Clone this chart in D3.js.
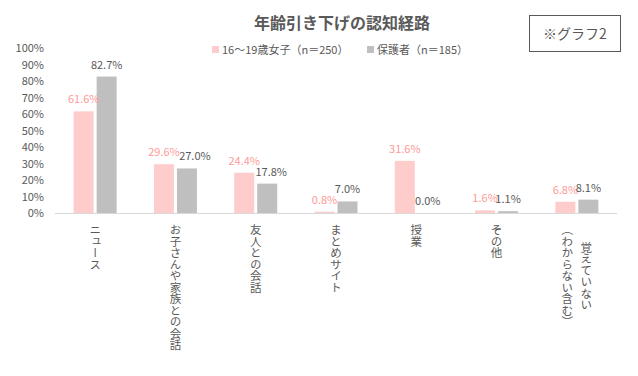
<!DOCTYPE html>
<html>
<head>
<meta charset="utf-8">
<script src="https://cdn.jsdelivr.net/npm/d3@7"></script>
<style>
  body { margin: 0; background: #fff; }
  svg { font-family: "Noto Sans CJK JP", "Noto Sans", sans-serif; }
</style>
</head>
<body>
<svg id="chart" width="638" height="376"></svg>
<script>
// categories (each label may wrap into several vertical columns)
const categories = [
    ['ニュース'],
    ['お子さんや家族との会話'],
    ['友人との会話'],
    ['まとめサイト'],
    ['授業'],
    ['その他'],
    ['覚えていない', '（わからない含む）']
];
const seriesNames = ['16〜19歳女子（n＝250）', '保護者（n＝185）'];
const girls = [61.6, 29.6, 24.4, 0.8, 31.6, 1.6, 6.8];
const parents = [82.7, 27.0, 17.8, 7.0, 0.0, 1.1, 8.1];
const yTicks = [0, 10, 20, 30, 40, 50, 60, 70, 80, 90, 100];

const barColors = ['#ffcccc', '#bfbfbf'];
const labelColors = ['#ff9999', '#595959'];
const textColor = '#595959';
// a few value labels are pushed right so they don't collide (category index -> px)
const parentLabelNudge = { 1: 8, 2: 4 };

const svg = d3.select('#chart');
const margin = { top: 48, right: 21, bottom: 163, left: 55 };
const width = 638, height = 376;

const x0 = d3.scaleBand()
    .domain(d3.range(categories.length))
    .range([margin.left, width - margin.right]);

const x1 = d3.scaleBand()
    .domain([0, 1])
    .range([-21.5, 21.5])
    .paddingInner(2 - 43 / 23);

const y = d3.scaleLinear()
    .domain([0, 100])
    .range([height - margin.bottom, margin.top]);

// title
svg.append('text')
    .attr('x', 342)
    .attr('y', 29)
    .attr('text-anchor', 'middle')
    .attr('font-size', 16)
    .attr('font-weight', 'bold')
    .attr('fill', textColor)
    .text('年齢引き下げの認知経路');

// legend
const legendX = [212, 367];
seriesNames.forEach((name, i) => {
    svg.append('rect')
        .attr('x', legendX[i])
        .attr('y', 46)
        .attr('width', 7)
        .attr('height', 7)
        .attr('fill', barColors[i]);
    svg.append('text')
        .attr('x', legendX[i] + 10)
        .attr('y', 54)
        .attr('font-size', 11)
        .attr('fill', textColor)
        .text(name);
});

// note box
svg.append('rect')
    .attr('x', 529.5)
    .attr('y', 15.5)
    .attr('width', 91)
    .attr('height', 36)
    .attr('fill', 'none')
    .attr('stroke', '#595959')
    .attr('stroke-width', 1);
svg.append('text')
    .attr('x', 575)
    .attr('y', 38.5)
    .attr('text-anchor', 'middle')
    .attr('font-size', 14)
    .attr('fill', textColor)
    .text('※グラフ2');

// y axis labels
const yAxis = d3.axisLeft(y)
    .tickValues(yTicks)
    .tickFormat(d => d + '%')
    .tickSize(0)
    .tickPadding(11);

svg.append('g')
    .attr('transform', `translate(${margin.left},0)`)
    .call(yAxis)
    .call(g => g.select('.domain').remove())
    .call(g => g.selectAll('text')
        .attr('font-size', 11)
        .attr('fill', textColor)
        .attr('font-family', '"Noto Sans CJK JP", sans-serif'));

// bars
const rows = categories.map((c, i) => [girls[i], parents[i]]);

const groups = svg.append('g')
    .selectAll('g')
    .data(rows)
    .join('g')
    .attr('transform', (d, i) => `translate(${x0(i) + x0.bandwidth() / 2},0)`);

groups.selectAll('rect')
    .data(d => d.map((v, s) => ({ v, s })))
    .join('rect')
    .attr('x', d => x1(d.s))
    .attr('y', d => y(d.v))
    .attr('width', x1.bandwidth())
    .attr('height', d => y(0) - y(d.v))
    .attr('fill', d => barColors[d.s]);

groups.selectAll('text.val')
    .data((d, i) => d.map((v, s) => ({ v, s, i })))
    .join('text')
    .attr('class', 'val')
    .attr('x', d => x1(d.s) + x1.bandwidth() / 2 + (d.s === 1 ? (parentLabelNudge[d.i] || 0) : 0))
    .attr('y', d => y(d.v) - 8)
    .attr('text-anchor', 'middle')
    .attr('font-size', 11)
    .attr('fill', d => labelColors[d.s])
    .text(d => d.v.toFixed(1) + '%');

// x axis line
svg.append('line')
    .attr('x1', margin.left)
    .attr('x2', width - margin.right)
    .attr('y1', y(0) + 0.5)
    .attr('y2', y(0) + 0.5)
    .attr('stroke', '#d9d9d9')
    .attr('stroke-width', 1);

// category labels, written vertically
const charH = 11.8;
const colGap = 19;
categories.forEach((lines, i) => {
    const cx = x0(i) + x0.bandwidth() / 2;
    const maxLen = d3.max(lines, l => l.length);
    lines.forEach((line, j) => {
        const colX = cx + ((lines.length - 1) / 2 - j) * colGap;
        const top = 224 + (maxLen - line.length) * charH / 2;
        svg.append('text')
            .attr('x', colX)
            .attr('y', top)
            .attr('font-size', 11.5)
            .attr('fill', textColor)
            .style('writing-mode', 'vertical-rl')
            .style('text-orientation', 'upright')
            .text(line);
    });
});
</script>
</body>
</html>
